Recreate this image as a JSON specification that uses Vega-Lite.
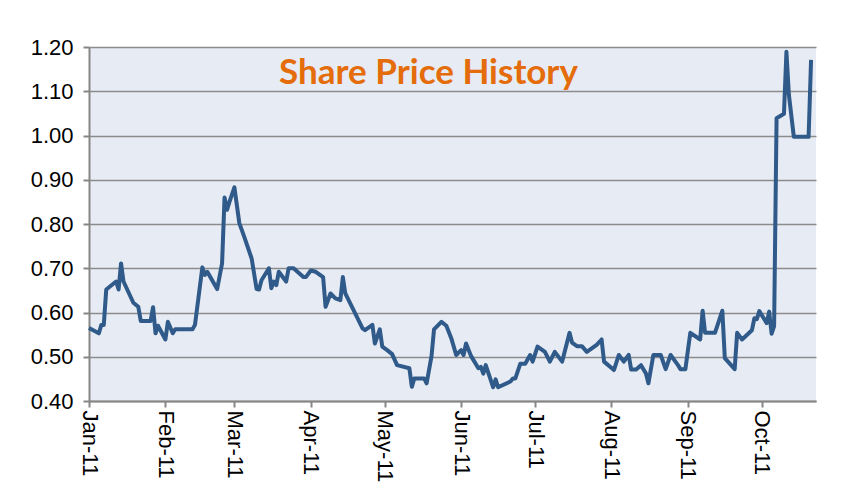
{
 "$schema": "https://vega.github.io/schema/vega-lite/v6.json",
 "width": 727,
 "height": 354,
 "autosize": {"type": "none"},
 "padding": {"left": 89, "top": 47, "right": 39, "bottom": 83},
 "background": "white",
 "title": {"text": "Share Price History", "color": "#E46C0A", "font": "Lato", "fontSize": 35, "fontWeight": "bold", "anchor": "middle", "frame": "group", "orient": "top", "offset": 0, "baseline": "alphabetic", "dy": 83, "dx": -24},
 "config": {
  "view": {"fill": "#E7EBF3", "stroke": null},
  "axis": {"domainColor": "#868686", "domainWidth": 2, "tickColor": "#868686", "tickWidth": 2, "tickSize": 6, "gridColor": "#8C8C8C", "gridWidth": 1.5, "labelFont": "Liberation Sans", "labelFontSize": 22, "labelColor": "#000000", "title": null}
 },
 "data": {"values": [
  {"date": "2011-01-01", "price": 0.565},
  {"date": "2011-01-05", "price": 0.553},
  {"date": "2011-01-06", "price": 0.572},
  {"date": "2011-01-07", "price": 0.572},
  {"date": "2011-01-08", "price": 0.652},
  {"date": "2011-01-12", "price": 0.670},
  {"date": "2011-01-13", "price": 0.652},
  {"date": "2011-01-14", "price": 0.711},
  {"date": "2011-01-15", "price": 0.670},
  {"date": "2011-01-19", "price": 0.622},
  {"date": "2011-01-21", "price": 0.613},
  {"date": "2011-01-22", "price": 0.581},
  {"date": "2011-01-26", "price": 0.581},
  {"date": "2011-01-27", "price": 0.612},
  {"date": "2011-01-28", "price": 0.553},
  {"date": "2011-01-29", "price": 0.570},
  {"date": "2011-02-01", "price": 0.539},
  {"date": "2011-02-02", "price": 0.579},
  {"date": "2011-02-04", "price": 0.553},
  {"date": "2011-02-05", "price": 0.562},
  {"date": "2011-02-12", "price": 0.562},
  {"date": "2011-02-13", "price": 0.572},
  {"date": "2011-02-16", "price": 0.702},
  {"date": "2011-02-17", "price": 0.685},
  {"date": "2011-02-18", "price": 0.692},
  {"date": "2011-02-22", "price": 0.653},
  {"date": "2011-02-24", "price": 0.711},
  {"date": "2011-02-25", "price": 0.860},
  {"date": "2011-02-26", "price": 0.832},
  {"date": "2011-02-27", "price": 0.850},
  {"date": "2011-03-01", "price": 0.883},
  {"date": "2011-03-03", "price": 0.802},
  {"date": "2011-03-05", "price": 0.771},
  {"date": "2011-03-08", "price": 0.722},
  {"date": "2011-03-10", "price": 0.653},
  {"date": "2011-03-11", "price": 0.652},
  {"date": "2011-03-12", "price": 0.673},
  {"date": "2011-03-15", "price": 0.700},
  {"date": "2011-03-16", "price": 0.655},
  {"date": "2011-03-17", "price": 0.670},
  {"date": "2011-03-18", "price": 0.662},
  {"date": "2011-03-19", "price": 0.692},
  {"date": "2011-03-22", "price": 0.670},
  {"date": "2011-03-23", "price": 0.700},
  {"date": "2011-03-25", "price": 0.700},
  {"date": "2011-03-29", "price": 0.680},
  {"date": "2011-03-30", "price": 0.680},
  {"date": "2011-04-01", "price": 0.695},
  {"date": "2011-04-03", "price": 0.692},
  {"date": "2011-04-06", "price": 0.680},
  {"date": "2011-04-07", "price": 0.613},
  {"date": "2011-04-09", "price": 0.643},
  {"date": "2011-04-11", "price": 0.632},
  {"date": "2011-04-13", "price": 0.628},
  {"date": "2011-04-14", "price": 0.680},
  {"date": "2011-04-15", "price": 0.643},
  {"date": "2011-04-19", "price": 0.598},
  {"date": "2011-04-22", "price": 0.564},
  {"date": "2011-04-23", "price": 0.560},
  {"date": "2011-04-26", "price": 0.572},
  {"date": "2011-04-27", "price": 0.530},
  {"date": "2011-04-29", "price": 0.562},
  {"date": "2011-04-30", "price": 0.523},
  {"date": "2011-05-02", "price": 0.515},
  {"date": "2011-05-04", "price": 0.506},
  {"date": "2011-05-06", "price": 0.481},
  {"date": "2011-05-11", "price": 0.474},
  {"date": "2011-05-12", "price": 0.432},
  {"date": "2011-05-13", "price": 0.451},
  {"date": "2011-05-17", "price": 0.451},
  {"date": "2011-05-18", "price": 0.440},
  {"date": "2011-05-20", "price": 0.502},
  {"date": "2011-05-21", "price": 0.562},
  {"date": "2011-05-24", "price": 0.579},
  {"date": "2011-05-26", "price": 0.570},
  {"date": "2011-05-28", "price": 0.542},
  {"date": "2011-05-30", "price": 0.504},
  {"date": "2011-06-01", "price": 0.515},
  {"date": "2011-06-02", "price": 0.504},
  {"date": "2011-06-03", "price": 0.530},
  {"date": "2011-06-05", "price": 0.502},
  {"date": "2011-06-08", "price": 0.474},
  {"date": "2011-06-09", "price": 0.477},
  {"date": "2011-06-10", "price": 0.462},
  {"date": "2011-06-11", "price": 0.481},
  {"date": "2011-06-14", "price": 0.431},
  {"date": "2011-06-15", "price": 0.449},
  {"date": "2011-06-16", "price": 0.431},
  {"date": "2011-06-21", "price": 0.444},
  {"date": "2011-06-22", "price": 0.451},
  {"date": "2011-06-23", "price": 0.451},
  {"date": "2011-06-25", "price": 0.484},
  {"date": "2011-06-27", "price": 0.484},
  {"date": "2011-06-29", "price": 0.504},
  {"date": "2011-06-30", "price": 0.489},
  {"date": "2011-07-02", "price": 0.523},
  {"date": "2011-07-05", "price": 0.511},
  {"date": "2011-07-07", "price": 0.489},
  {"date": "2011-07-09", "price": 0.511},
  {"date": "2011-07-12", "price": 0.489},
  {"date": "2011-07-15", "price": 0.554},
  {"date": "2011-07-16", "price": 0.532},
  {"date": "2011-07-18", "price": 0.524},
  {"date": "2011-07-20", "price": 0.524},
  {"date": "2011-07-22", "price": 0.511},
  {"date": "2011-07-26", "price": 0.527},
  {"date": "2011-07-28", "price": 0.539},
  {"date": "2011-07-29", "price": 0.489},
  {"date": "2011-08-02", "price": 0.470},
  {"date": "2011-08-04", "price": 0.504},
  {"date": "2011-08-06", "price": 0.489},
  {"date": "2011-08-08", "price": 0.504},
  {"date": "2011-08-09", "price": 0.471},
  {"date": "2011-08-11", "price": 0.471},
  {"date": "2011-08-13", "price": 0.481},
  {"date": "2011-08-15", "price": 0.462},
  {"date": "2011-08-16", "price": 0.440},
  {"date": "2011-08-18", "price": 0.504},
  {"date": "2011-08-21", "price": 0.504},
  {"date": "2011-08-23", "price": 0.472},
  {"date": "2011-08-25", "price": 0.504},
  {"date": "2011-08-28", "price": 0.481},
  {"date": "2011-08-29", "price": 0.472},
  {"date": "2011-08-31", "price": 0.472},
  {"date": "2011-09-02", "price": 0.554},
  {"date": "2011-09-06", "price": 0.539},
  {"date": "2011-09-07", "price": 0.604},
  {"date": "2011-09-08", "price": 0.554},
  {"date": "2011-09-12", "price": 0.554},
  {"date": "2011-09-15", "price": 0.604},
  {"date": "2011-09-16", "price": 0.497},
  {"date": "2011-09-20", "price": 0.472},
  {"date": "2011-09-21", "price": 0.554},
  {"date": "2011-09-23", "price": 0.539},
  {"date": "2011-09-27", "price": 0.560},
  {"date": "2011-09-28", "price": 0.587},
  {"date": "2011-09-29", "price": 0.585},
  {"date": "2011-09-30", "price": 0.603},
  {"date": "2011-10-03", "price": 0.576},
  {"date": "2011-10-04", "price": 0.602},
  {"date": "2011-10-05", "price": 0.552},
  {"date": "2011-10-06", "price": 0.569},
  {"date": "2011-10-07", "price": 1.039},
  {"date": "2011-10-10", "price": 1.049},
  {"date": "2011-10-11", "price": 1.189},
  {"date": "2011-10-12", "price": 1.092},
  {"date": "2011-10-14", "price": 0.997},
  {"date": "2011-10-20", "price": 0.997},
  {"date": "2011-10-21", "price": 1.171}
 ]},
 "mark": {"type": "line", "color": "#2F5A8A", "strokeWidth": 4, "strokeJoin": "round"},
 "encoding": {
  "x": {
   "field": "date", "type": "temporal",
   "scale": {"type": "utc", "domain": [{"year": 2011, "month": 1, "date": 1, "utc": true}, {"year": 2011, "month": 10, "date": 23, "utc": true}]},
   "axis": {
    "values": [
     {"year": 2011, "month": 1, "date": 1, "utc": true},
     {"year": 2011, "month": 2, "date": 1, "utc": true},
     {"year": 2011, "month": 3, "date": 1, "utc": true},
     {"year": 2011, "month": 4, "date": 1, "utc": true},
     {"year": 2011, "month": 5, "date": 1, "utc": true},
     {"year": 2011, "month": 6, "date": 1, "utc": true},
     {"year": 2011, "month": 7, "date": 1, "utc": true},
     {"year": 2011, "month": 8, "date": 1, "utc": true},
     {"year": 2011, "month": 9, "date": 1, "utc": true},
     {"year": 2011, "month": 10, "date": 1, "utc": true}
    ],
    "format": "%b-%y", "labelAngle": 90, "grid": false, "labelPadding": 3, "labelOverlap": false
   }
  },
  "y": {
   "field": "price", "type": "quantitative",
   "scale": {"domain": [0.4, 1.2], "zero": false, "nice": false},
   "axis": {"values": [0.4, 0.5, 0.6, 0.7, 0.8, 0.9, 1.0, 1.1, 1.2], "format": ".2f", "grid": true, "labelPadding": 10}
  }
 }
}
